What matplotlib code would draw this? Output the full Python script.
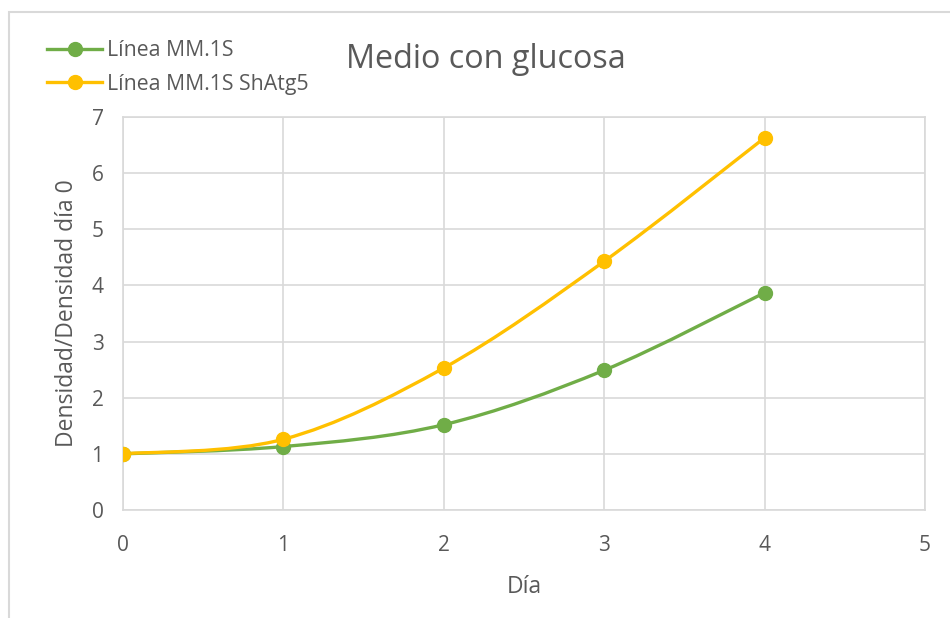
import numpy as np
import matplotlib
matplotlib.use("Agg")
import matplotlib.pyplot as plt
from matplotlib.path import Path
from matplotlib.patches import PathPatch, Rectangle
from matplotlib.lines import Line2D

# data
dias = [0, 1, 2, 3, 4]
mm1s = [1.0, 1.13, 1.52, 2.49, 3.87]
shatg5 = [1.0, 1.26, 2.53, 4.43, 6.63]
etiquetas = ["Línea MM.1S", "Línea MM.1S ShAtg5"]
colores = ["#70AD47", "#FFC000"]

plt.rcParams['font.family'] = ['Open Sans', 'DejaVu Sans']
gris_texto = "#595959"
gris_linea = "#D9D9D9"


def smooth_path(x, y):
    # Excel-like smoothed line: cubic bezier, catmull-rom tangents / 6
    pts = np.column_stack([x, y]).astype(float)
    ext = np.vstack([pts[0], pts, pts[-1]])
    verts = [pts[0]]
    codes = [Path.MOVETO]
    for i in range(len(pts) - 1):
        p0, p1, p2, p3 = ext[i], ext[i + 1], ext[i + 2], ext[i + 3]
        c1 = p1 + (p2 - p0) / 6.0
        c2 = p2 - (p3 - p1) / 6.0
        verts += [c1, c2, p2]
        codes += [Path.CURVE4] * 3
    return Path(verts, codes)


fig = plt.figure(figsize=(9.5, 6.18), dpi=100)
ax = fig.add_axes([123 / 950, 1 - 510 / 618, 802 / 950, 393 / 618])

# chart area border (cut off at right/bottom like the reference)
fig.patches.append(Rectangle((9 / 950, -0.1), 1.2, (618 - 12) / 618 + 0.1,
                             transform=fig.transFigure, fill=False,
                             edgecolor=gris_linea, lw=1.5))

for serie, col in zip([mm1s, shatg5], colores):
    ax.add_patch(PathPatch(smooth_path(dias, serie), fill=False,
                           edgecolor=col, lw=2.4, capstyle='round',
                           zorder=3))
    ax.plot(dias, serie, 'o', color=col, markersize=10, zorder=4)

ax.set_xlim(0, 5)
ax.set_ylim(0, 7)
ax.set_xticks(range(0, 6))
ax.set_yticks(range(0, 8))
ax.grid(True, color=gris_linea, lw=1.2)
ax.set_axisbelow(True)
for s in ax.spines.values():
    s.set_color(gris_linea)
    s.set_linewidth(1.2)
ax.tick_params(length=0, labelsize=15, labelcolor=gris_texto)
ax.tick_params(axis='x', pad=18)
ax.tick_params(axis='y', pad=14)

ax.set_xlabel("Día", fontsize=16.5, color=gris_texto, labelpad=14)
ax.set_ylabel("Densidad/Densidad día 0", fontsize=16.5, color=gris_texto,
              labelpad=9)
fig.text(486 / 950, 1 - 59 / 618, "Medio con glucosa", fontsize=23.3,
         color=gris_texto, ha='center', va='center')

handles = [Line2D([], [], color=c, lw=2.4, marker='o', markersize=10)
           for c in colores]
fig.legend(handles, etiquetas, loc='upper left',
           bbox_to_anchor=(47 / 950, 1 - 40 / 618), frameon=False,
           fontsize=15.3, labelcolor=gris_texto, handlelength=2.6,
           handletextpad=0.24, labelspacing=0.6, borderaxespad=0,
           borderpad=0)

fig.savefig("out.png", dpi=100)
